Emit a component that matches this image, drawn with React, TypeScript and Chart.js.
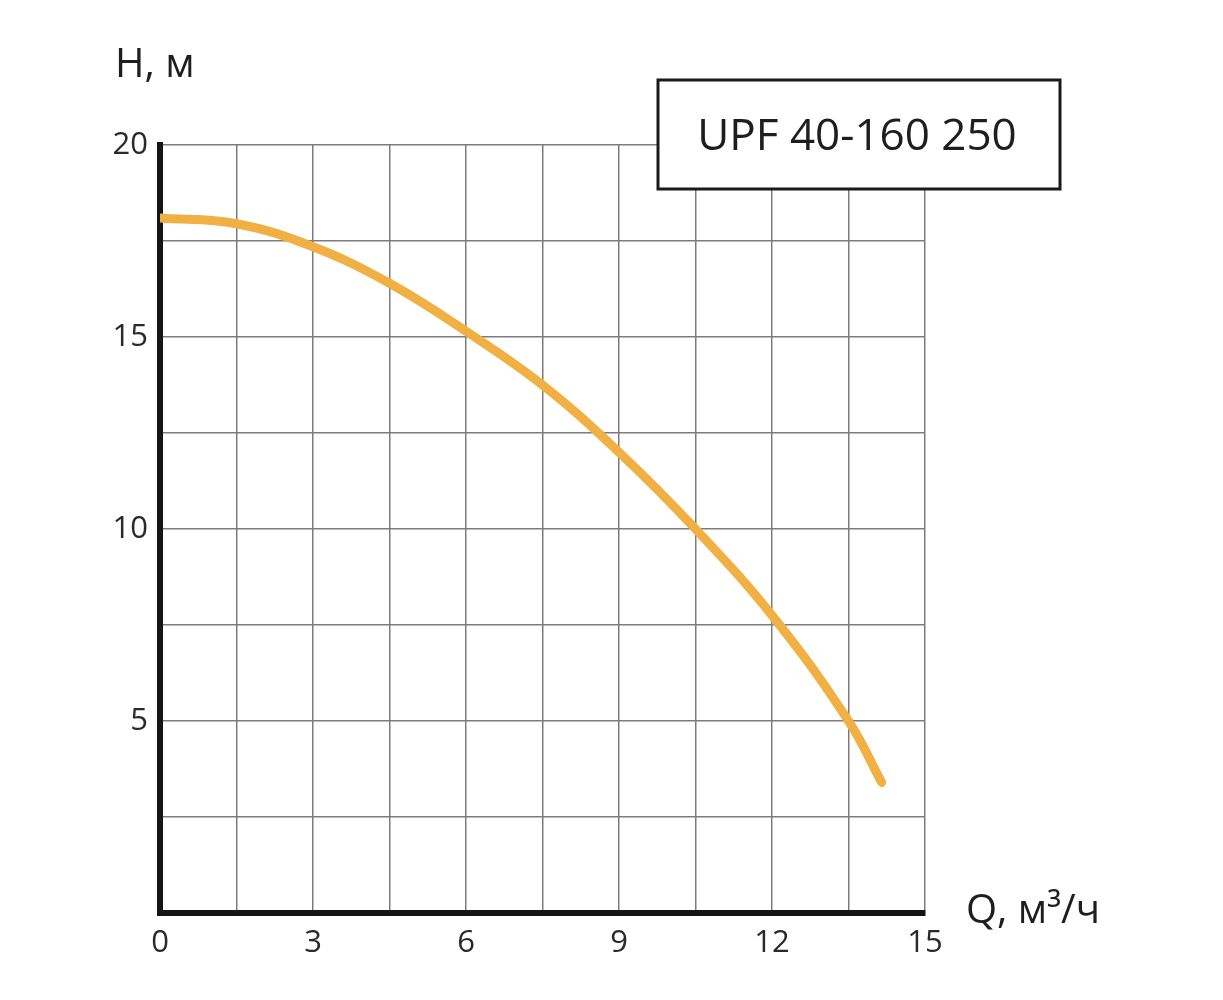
import { useEffect, useRef } from 'react';
import { Chart, registerables } from 'chart.js';

Chart.register(...registerables);

// Pump curve data
const flowQ = [0, 1.5, 3, 4.5, 6, 7.5, 9, 10.5, 12, 13.5, 14.15];
const headH = [18.1, 17.95, 17.35, 16.4, 15.15, 13.75, 12.0, 10.0, 7.75, 5.0, 3.4];
const xTickLabels = [0, 3, 6, 9, 12, 15];
const yTickLabels = [5, 10, 15, 20];
const modelName = 'UPF 40-160 250';
const yTitle = 'H, м';
const xTitle = 'Q, м³/ч';

const FONT = '"Open Sans", "DejaVu Sans", sans-serif';

const overlayPlugin = {
  id: 'overlay',
  afterDatasetsDraw(chart: any) {
    const ctx = chart.ctx as CanvasRenderingContext2D;
    ctx.save();
    // model box
    ctx.fillStyle = '#ffffff';
    ctx.fillRect(658, 80, 402, 109);
    ctx.lineWidth = 3;
    ctx.strokeStyle = '#1a1a1a';
    ctx.strokeRect(658, 80, 402, 109);
    ctx.fillStyle = '#1e1e1e';
    ctx.font = `44px ${FONT}`;
    ctx.textAlign = 'center';
    ctx.textBaseline = 'middle';
    ctx.fillText(modelName, 857, 137);
    // axis titles
    ctx.textAlign = 'left';
    ctx.textBaseline = 'alphabetic';
    ctx.font = `40px ${FONT}`;
    ctx.fillText(yTitle, 115, 77);
    ctx.font = `40px ${FONT}`;
    ctx.fillText(xTitle, 966, 923);
    ctx.restore();
  },
};

export default function App() {
  const ref = useRef<HTMLCanvasElement | null>(null);
  useEffect(() => {
    if (!ref.current) return;
    const points = flowQ.map((q, i) => ({ x: q, y: headH[i] }));
    const chart = new Chart(ref.current, {
      type: 'line',
      data: {
        datasets: [
          {
            data: points,
            borderColor: '#F0B043',
            borderWidth: 9,
            borderCapStyle: 'round',
            pointRadius: 0,
            tension: 0.4,
            fill: false,
          } as any,
        ],
      },
      options: {
        responsive: false,
        animation: false,
        layout: { padding: { left: 0, top: 145, right: 298, bottom: 0 } },
        plugins: {
          legend: { display: false },
          tooltip: { enabled: false },
          title: { display: false },
        },
        scales: {
          x: {
            type: 'linear',
            min: 0,
            max: 15,
            afterFit: (s: any) => {
              s.height = 87;
            },
            ticks: {
              stepSize: 1.5,
              autoSkip: false,
              maxRotation: 0,
              padding: 12,
              color: '#2a2a2a',
              font: { size: 31, family: FONT },
              callback: (v: any) => {
                const n = Math.round(Number(v) * 100) / 100;
                return xTickLabels.includes(n) ? String(n) : '';
              },
            },
            grid: { color: '#7c7c7c', lineWidth: 1.5, drawTicks: false },
            border: { color: '#151515', width: 6 },
          },
          y: {
            type: 'linear',
            min: 0,
            max: 20,
            afterFit: (s: any) => {
              s.width = 160;
            },
            ticks: {
              stepSize: 2.5,
              autoSkip: false,
              padding: 12,
              color: '#2a2a2a',
              font: { size: 31, family: FONT },
              callback: (v: any) => {
                const n = Math.round(Number(v) * 100) / 100;
                return yTickLabels.includes(n) ? String(n) : '';
              },
            },
            grid: { color: '#7c7c7c', lineWidth: 1.5, drawTicks: false },
            border: { color: '#151515', width: 6 },
          },
        },
      },
      plugins: [overlayPlugin],
    });
    return () => chart.destroy();
  }, []);
  return (
    <div style={{ position: 'absolute', left: 0, top: 0, width: 1223, height: 1000, background: '#fff' }}>
      <canvas ref={ref} width={1223} height={1000} style={{ display: 'block' }} />
    </div>
  );
}
